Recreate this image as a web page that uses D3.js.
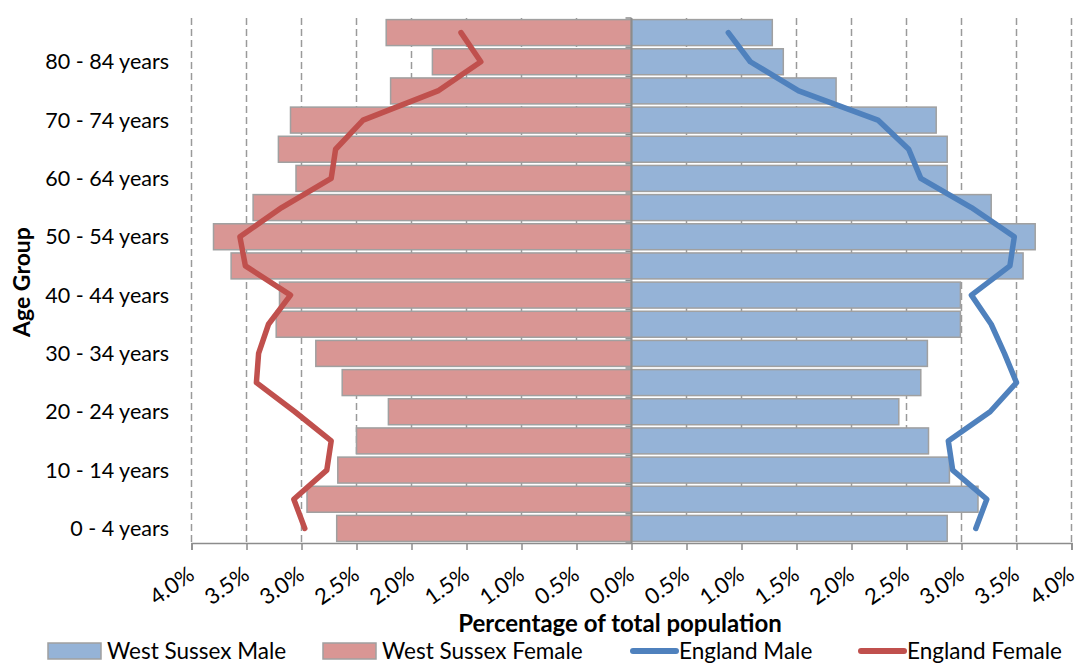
<!DOCTYPE html>
<html><head><meta charset="utf-8">
<script src="https://cdn.jsdelivr.net/npm/d3@7"></script>
<style>body{margin:0;background:#fff}svg{display:block;font-family:Lato,"Noto Sans",sans-serif}</style>
</head><body><svg id="c" width="1078" height="664"></svg>
<script>
const ageGroups = ["0 - 4 years","5 - 9 years","10 - 14 years","15 - 19 years","20 - 24 years","25 - 29 years","30 - 34 years","35 - 39 years","40 - 44 years","45 - 49 years","50 - 54 years","55 - 59 years","60 - 64 years","65 - 69 years","70 - 74 years","75 - 79 years","80 - 84 years","85+ years"];
const wsMale   = [2.87,3.15,2.89,2.70,2.43,2.63,2.69,2.99,2.99,3.56,3.67,3.27,2.87,2.87,2.77,1.86,1.38,1.28];
const wsFemale = [2.68,2.95,2.67,2.50,2.21,2.63,2.87,3.23,3.20,3.64,3.80,3.44,3.05,3.21,3.10,2.19,1.81,2.23];
const engMale  = [3.13,3.23,2.92,2.88,3.26,3.50,3.39,3.27,3.09,3.44,3.48,3.09,2.63,2.52,2.24,1.52,1.08,0.88];
const engFemale= [2.97,3.07,2.77,2.73,3.06,3.41,3.39,3.30,3.10,3.51,3.56,3.18,2.73,2.69,2.44,1.76,1.37,1.55];
const xTicks = [-4,-3.5,-3,-2.5,-2,-1.5,-1,-0.5,0,0.5,1,1.5,2,2.5,3,3.5,4];
const yLabelShown = ["0 - 4 years","10 - 14 years","20 - 24 years","30 - 34 years","40 - 44 years","50 - 54 years","60 - 64 years","70 - 74 years","80 - 84 years"];
const legendItems = [
  {name:"West Sussex Male", type:"rect", color:"#95B3D7"},
  {name:"West Sussex Female", type:"rect", color:"#D99694"},
  {name:"England Male", type:"line", color:"#4F81BD"},
  {name:"England Female", type:"line", color:"#C0504D"}
];

const svg = d3.select("#c");
const L=191.5, R=1071.5, T=18, B=543;
const x = d3.scaleLinear().domain([-4,4]).range([L,R]);
const y = d3.scaleBand().domain(ageGroups.slice().reverse()).range([T,B]).paddingInner(0.11).paddingOuter(0.055);
const yc = d => y(d)+y.bandwidth()/2;
const gray="#A0A0A0";

// gridlines
svg.append("g").selectAll("line").data(xTicks.filter(v=>v!==0)).join("line")
  .attr("x1",d=>x(d)).attr("x2",d=>x(d)).attr("y1",T).attr("y2",B)
  .attr("stroke","#9a9a9a").attr("stroke-width",1.5).attr("stroke-dasharray","7,4");

// bars
svg.append("g").selectAll("rect").data(ageGroups).join("rect")
  .attr("x",(d,i)=>x(-wsFemale[i])).attr("width",(d,i)=>x(0)-x(-wsFemale[i]))
  .attr("y",d=>y(d)).attr("height",y.bandwidth())
  .attr("fill","#D99694").attr("stroke",gray).attr("stroke-width",1.5);
svg.append("g").selectAll("rect").data(ageGroups).join("rect")
  .attr("x",x(0)).attr("width",(d,i)=>x(wsMale[i])-x(0))
  .attr("y",d=>y(d)).attr("height",y.bandwidth())
  .attr("fill","#95B3D7").attr("stroke",gray).attr("stroke-width",1.5);

// center axis
svg.append("line").attr("x1",x(0)).attr("x2",x(0)).attr("y1",T).attr("y2",B).attr("stroke","#8c8c8c").attr("stroke-width",2);
svg.append("g").selectAll("line").data(d3.range(19)).join("line")
  .attr("x1",x(0)-6).attr("x2",x(0)).attr("y1",i=>T+i*(B-T)/18).attr("y2",i=>T+i*(B-T)/18)
  .attr("stroke","#8c8c8c").attr("stroke-width",1.5);

// lines
const lineGen = arr => d3.line().x(d=>x(d.v)).y(d=>yc(d.g))(ageGroups.map((g,i)=>({g,v:arr[i]})));
svg.append("path").attr("d",lineGen(engMale)).attr("fill","none").attr("stroke","#4F81BD").attr("stroke-width",5.5).attr("stroke-linecap","round").attr("stroke-linejoin","round");
svg.append("path").attr("d",lineGen(engFemale.map(v=>-v))).attr("fill","none").attr("stroke","#C0504D").attr("stroke-width",5.5).attr("stroke-linecap","round").attr("stroke-linejoin","round");

// x axis
const xAxis = svg.append("g").attr("transform",`translate(0,${B})`)
  .call(d3.axisBottom(x).tickValues(xTicks).tickSize(7).tickFormat(d=>Math.abs(d).toFixed(1)+"%"));
xAxis.select(".domain").attr("stroke","#8c8c8c").attr("stroke-width",1.5);
xAxis.selectAll(".tick line").attr("stroke","#8c8c8c").attr("stroke-width",1.5);
xAxis.selectAll(".tick text").attr("font-size",22).attr("fill","#000").attr("font-family","Lato")
  .attr("text-anchor","end").attr("dy",null).attr("y",null)
  .attr("transform","translate(4,35) rotate(-35)");

// y labels
svg.append("g").selectAll("text").data(yLabelShown).join("text")
  .attr("x",169).attr("y",d=>yc(d)).attr("dy","0.35em").attr("text-anchor","end")
  .attr("font-size",21.5).text(d=>d);

// titles
svg.append("text").attr("transform",`translate(30,282) rotate(-90)`).attr("text-anchor","middle")
  .attr("font-size",23).attr("font-weight","bold").text("Age Group");
svg.append("text").attr("x",620).attr("y",632).attr("text-anchor","middle")
  .attr("font-size",24).attr("font-weight","bold").text("Percentage of total population");

// legend
const lx=[48,323,630,858];
const lg = svg.append("g").selectAll("g").data(legendItems).join("g").attr("transform",(d,i)=>`translate(${lx[i]},651)`);
lg.filter(d=>d.type==="rect").append("rect").attr("x",0).attr("y",-8).attr("width",53).attr("height",16)
  .attr("fill",d=>d.color).attr("stroke",gray).attr("stroke-width",1.5);
lg.filter(d=>d.type==="line").append("line").attr("x1",3).attr("x2",46).attr("y1",0).attr("y2",0)
  .attr("stroke",d=>d.color).attr("stroke-width",6).attr("stroke-linecap","round");
lg.append("text").attr("x",(d)=>d.type==="rect"?59:49).attr("y",0).attr("dy","0.34em").attr("font-size",22.5).text(d=>d.name);
</script></body></html>
